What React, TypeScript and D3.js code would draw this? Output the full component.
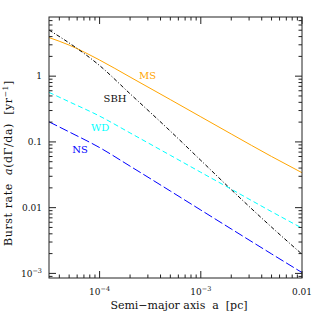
import React from "react";
import * as d3 from "d3";

// ---- data ----
const semiMajorAxis = [3.162e-5, 5e-5, 1e-4, 2e-4, 5e-4, 1e-3, 2e-3, 5e-3, 1e-2];
const msRate = [3.87, 2.97, 1.76, 0.97, 0.44, 0.241, 0.132, 0.06, 0.034];
const sbhRate = [5.03, 3.2, 1.45, 0.54, 0.146, 0.0524, 0.0188, 0.00506, 0.00196];
const wdRate = [0.567, 0.408, 0.247, 0.137, 0.0626, 0.0345, 0.0191, 0.0087, 0.00488];
const nsRate = [0.202, 0.142, 0.082, 0.0428, 0.0179, 0.0092, 0.00474, 0.00198, 0.00103];

const seriesNames = ["MS", "SBH", "WD", "NS"];
const seriesLabelA = [2.98e-4, 1.42e-4, 1.01e-4, 6.4e-5];
const seriesLabelRate = [1.04, 0.465, 0.168, 0.0778];

const xTickValues = [1e-4, 1e-3, 1e-2];
const xTickBase = ["10", "10", "0.01"];
const xTickExp = ["−4", "−3", ""];
const yTickValues = [1e-3, 1e-2, 1e-1, 1];
const yTickBase = ["10", "0.01", "0.1", "1"];
const yTickExp = ["−3", "", "", ""];

const xDomain = [Math.pow(10, -4.5), 1e-2];
const yDomain = [Math.pow(10, -3.07), Math.pow(10, 0.9)];

const W = 319, H = 319;
const L = 49, R = 302, T = 17, B = 278;
const FONT = "DejaVu Serif";

const styles = [
  { color: "#ffa500", dash: "none" },
  { color: "#000000", dash: "4,2,1,2" },
  { color: "#00ffff", dash: "5,3" },
  { color: "#0000ff", dash: "9,3" },
];

export default function App() {
  const x = d3.scaleLog().domain(xDomain).range([L, R]);
  const y = d3.scaleLog().domain(yDomain).range([B, T]);
  const seriesData = [msRate, sbhRate, wdRate, nsRate];
  const line = d3
    .line<[number, number]>()
    .x((d) => x(d[0]))
    .y((d) => y(d[1]))
    .curve(d3.curveMonotoneX);

  const isMajor = (v: number) => Math.abs(Math.log10(v) - Math.round(Math.log10(v))) < 1e-6;
  const xt = x.ticks();
  const yt = y.ticks();
  const majLen = 7, minLen = 3.5;
  const axisColor = "#222";

  return (
    <svg width={W} height={H} style={{ position: "absolute", left: 0, top: 0, background: "#fff" }}>
      <defs>
        <clipPath id="plot">
          <rect x={L} y={T} width={R - L} height={B - T} />
        </clipPath>
      </defs>
      <g clipPath="url(#plot)">
        {seriesData.map((s, i) => (
          <path
            key={i}
            d={line(semiMajorAxis.map((a, j) => [a, s[j]] as [number, number])) || ""}
            fill="none"
            stroke={styles[i].color}
            strokeWidth={1}
            strokeDasharray={styles[i].dash}
          />
        ))}
      </g>
      {seriesNames.map((n, i) => (
        <text
          key={n}
          x={x(seriesLabelA[i])}
          y={y(seriesLabelRate[i])}
          fill={styles[i].color === "#000000" ? "#111" : styles[i].color}
          fontFamily={FONT}
          fontSize={10}
          textAnchor="middle"
          dominantBaseline="central"
        >
          {n}
        </text>
      ))}
      {/* frame */}
      <rect x={L} y={T} width={R - L} height={B - T} fill="none" stroke={axisColor} strokeWidth={1} />
      {/* x ticks */}
      {xt.map((v, i) => {
        const len = isMajor(v) ? majLen : minLen;
        const px = x(v);
        return (
          <g key={"x" + i} stroke={axisColor} strokeWidth={1}>
            <line x1={px} x2={px} y1={B} y2={B - len} />
            <line x1={px} x2={px} y1={T} y2={T + len} />
          </g>
        );
      })}
      {yt.map((v, i) => {
        const len = isMajor(v) ? majLen : minLen;
        const py = y(v);
        return (
          <g key={"y" + i} stroke={axisColor} strokeWidth={1}>
            <line x1={L} x2={L + len} y1={py} y2={py} />
            <line x1={R} x2={R - len} y1={py} y2={py} />
          </g>
        );
      })}
      {/* x tick labels */}
      {xTickValues.map((v, i) => (
        <text key={"xl" + i} x={x(v)} y={294.5} fontFamily={FONT} fontSize={9} textAnchor="middle" fill="#111">
          {xTickBase[i]}
          {xTickExp[i] && (
            <tspan fontSize={6.5} dy={-3.5}>
              {xTickExp[i]}
            </tspan>
          )}
        </text>
      ))}
      {/* y tick labels */}
      {yTickValues.map((v, i) => (
        <text key={"yl" + i} x={42} y={y(v) + 3.3} fontFamily={FONT} fontSize={9} textAnchor="end" fill="#111">
          {yTickBase[i]}
          {yTickExp[i] && (
            <tspan fontSize={6.5} dy={-3.5}>
              {yTickExp[i]}
            </tspan>
          )}
        </text>
      ))}
      {/* axis titles */}
      <text x={179} y={309} fontFamily={FONT} fontSize={11} textAnchor="middle" fill="#111" style={{ whiteSpace: "pre" }}>
        {"Semi−major axis  a  [pc]"}
      </text>
      <text
        transform={`translate(11.5,163) rotate(-90)`}
        fontFamily={FONT}
        fontSize={11}
        letterSpacing={0.6}
        textAnchor="middle"
        fill="#111"
        style={{ whiteSpace: "pre" }}
      >
        {"Burst rate  "}
        <tspan fontStyle="italic">a</tspan>
        {"(dΓ/da)  [yr"}
        <tspan fontSize={7.5} dy={-4}>
          −1
        </tspan>
        <tspan dy={4}>]</tspan>
      </text>
    </svg>
  );
}
